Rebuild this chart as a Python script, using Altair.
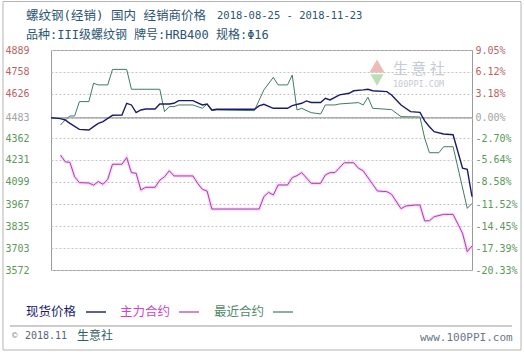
import altair as alt
import pandas as pd

# ---------------- data ----------------
spot_days = [0, 2, 3, 4, 6, 8, 9, 10, 11, 12, 13, 15, 16, 17, 18, 19, 20, 22, 23, 25, 26, 27, 30,
             32, 33, 34, 35, 43, 44, 45, 47, 50, 51, 53, 54, 55, 57, 58, 59, 61, 63, 64, 66, 67,
             68, 71, 72, 73, 74, 76, 78, 79, 80, 81, 83, 85, 87, 88, 89]
spot_vals = [4483, 4478, 4470, 4450, 4414, 4410, 4430, 4450, 4460, 4480, 4498, 4500, 4570, 4560,
             4514, 4530, 4536, 4536, 4566, 4566, 4570, 4586, 4586, 4560, 4566, 4530, 4534, 4534,
             4554, 4564, 4540, 4540, 4556, 4570, 4584, 4575, 4575, 4600, 4590, 4620, 4630, 4645,
             4650, 4654, 4645, 4640, 4620, 4590, 4560, 4520, 4516, 4465, 4430, 4400, 4386, 4382,
             4181, 4175, 4011]

main_days = [2, 3, 4, 5, 6, 8, 9, 10, 11, 12, 13, 15, 16, 17, 18, 19, 20, 22, 23, 24, 25, 26, 30,
             31, 32, 33, 34, 44, 45, 46, 47, 48, 50, 51, 52, 53, 55, 57, 58, 59, 60, 62, 64, 65,
             66, 69, 71, 72, 74, 75, 77, 78, 79, 80, 81, 83, 85, 87, 88, 89]
main_vals = [4260, 4220, 4216, 4130, 4095, 4093, 4080, 4101, 4085, 4115, 4205, 4205, 4245, 4155,
             4151, 4051, 4067, 4067, 4110, 4130, 4166, 4135, 4135, 4091, 4055, 4045, 3937, 3937,
             4011, 4037, 4021, 4081, 4081, 4125, 4137, 4155, 4091, 4091, 4141, 4155, 4155, 4214,
             4214, 4181, 4166, 4045, 4041, 4025, 3939, 3955, 3961, 3961, 3866, 3867, 3891, 3905,
             3905, 3792, 3682, 3716]

near_days = [2, 3, 4, 5, 6, 8, 9, 10, 12, 13, 16, 17, 23, 24, 25, 26, 27, 30, 32, 33, 34, 35, 43,
             45, 47, 48, 50, 51, 52, 53, 55, 57, 58, 60, 61, 65, 66, 67, 68, 72, 74, 78, 79, 80,
             82, 83, 85, 88, 89]
near_vals = [4440, 4470, 4494, 4494, 4580, 4580, 4690, 4680, 4680, 4773, 4773, 4654, 4654, 4520,
             4550, 4550, 4560, 4560, 4540, 4566, 4526, 4530, 4526, 4650, 4725, 4680, 4680, 4739,
             4530, 4540, 4514, 4506, 4560, 4560, 4566, 4574, 4560, 4606, 4540, 4532, 4490, 4488,
             4360, 4274, 4274, 4310, 4310, 3941, 3971]

y_ticks = [4889, 4758, 4626, 4483, 4362, 4231, 4099, 3967, 3835, 3703, 3572]
pct_labels = ["9.05%", "6.12%", "3.18%", "0.00%", "-2.70%", "-5.64%", "-8.58%", "-11.52%",
              "-14.45%", "-17.39%", "-20.33%"]
x_ticks = [0, 9, 18, 27, 36, 45, 54, 63, 72, 81, 89]
x_labels = ["08/25", "09/03", "09/12", "09/21", "09/30", "10/09", "10/18", "10/27", "11/05",
            "11/14", "11/22"]
base_price = 4483

title1a = "螺纹钢(经销) 国内 经销商价格"
title1b = "2018-08-25 - 2018-11-23"
title2 = "品种:III级螺纹钢 牌号:HRB400 规格:Φ16"
legend_names = ["现货价格", "主力合约", "最近合约"]
series_colors = ["#1b1b6b", "#b03ab6", "#3f7a62"]

# ---------------- build ----------------
df = pd.concat([
    pd.DataFrame({"day": spot_days, "price": spot_vals, "series": "spot"}),
    pd.DataFrame({"day": main_days, "price": main_vals, "series": "main"}),
    pd.DataFrame({"day": near_days, "price": near_vals, "series": "near"}),
])


def ternary(vals, labels):
    expr = "''"
    for v, l in reversed(list(zip(vals, labels))):
        expr = f"(abs(datum.value - {v}) < 0.5 ? '{l}' : {expr})"
    return expr


W, H = 421, 220
OX, OY = 51, 50
MONO = "DejaVu Sans Mono"
CJK = "Noto Sans CJK SC"
MIX = "DejaVu Sans Mono, Noto Sans CJK SC"

ydom = alt.Scale(domain=[3572, 4889], nice=False, zero=False)
xdom = alt.Scale(domain=[0, 89], nice=False, zero=False)

label_col = {
    "condition": [
        {"test": f"datum.value > {base_price + 5}", "value": "#b86464"},
        {"test": f"datum.value > {base_price - 5}", "value": "#a3a3a3"},
    ],
    "value": "#5a995a",
}

x_axis = alt.Axis(values=x_ticks, labelExpr=ternary(x_ticks, x_labels), grid=True,
                  gridColor="#c4c4c4", gridDash=[2, 2], ticks=False, domain=False,
                  labelFont=MONO, labelFontSize=10, labelColor="#34495a", labelPadding=9,
                  title=None, labelFlush=False)
y_left = alt.Axis(values=y_ticks, format="d", grid=True, gridColor="#c4c4c4", gridDash=[2, 2],
                  ticks=False, domain=False, labelFont=MONO, labelFontSize=10, labelPadding=22,
                  labelColor=label_col, title=None, orient="left")
y_right = alt.Axis(values=y_ticks, labelExpr=ternary(y_ticks, pct_labels), grid=False,
                   ticks=False, domain=False, labelFont=MONO, labelFontSize=10, labelPadding=3,
                   labelColor=label_col, title=None, orient="right")

base = alt.Chart(df)

main_halo = base.transform_filter("datum.series == 'main'").mark_line(
    color="#f3b8f0", strokeWidth=3.2, opacity=0.55).encode(
    x=alt.X("day:Q", scale=xdom, axis=x_axis),
    y=alt.Y("price:Q", scale=ydom, axis=y_left))

near_line = base.transform_filter("datum.series == 'near'").mark_line(
    color=series_colors[2], strokeWidth=1).encode(
    x=alt.X("day:Q", scale=xdom, axis=None),
    y=alt.Y("price:Q", scale=ydom, axis=y_right))

main_line = base.transform_filter("datum.series == 'main'").mark_line(
    color=series_colors[1], strokeWidth=1).encode(
    x=alt.X("day:Q", scale=xdom, axis=None),
    y=alt.Y("price:Q", scale=ydom, axis=None))

spot_line = base.transform_filter("datum.series == 'spot'").mark_line(
    color=series_colors[0], strokeWidth=1.4).encode(
    x=alt.X("day:Q", scale=xdom, axis=None),
    y=alt.Y("price:Q", scale=ydom, axis=None))

one = alt.Data(values=[{}])

baseline = alt.Chart(one).mark_rule(color="#8a8a8a", strokeWidth=1).encode(
    y=alt.Y(datum=base_price, scale=ydom, axis=None))


def txt(s, px, py, font, size, color, align="left"):
    return alt.Chart(one).mark_text(text=s, font=font, fontSize=size, color=color,
                                    align=align, baseline="middle").encode(
        x=alt.value(px - OX), y=alt.value(py - OY))


def hline(x1, x2, py, color, width=1):
    return alt.Chart(one).mark_rule(color=color, strokeWidth=width).encode(
        x=alt.value(x1 - OX), x2=alt.value(x2 - OX), y=alt.value(py - OY))


frame = alt.Chart(one).mark_rect(fill="transparent", stroke="#b4b4b4", strokeWidth=1).encode(
    x=alt.value(3 - OX), x2=alt.value(521 - OX), y=alt.value(1.5 - OY), y2=alt.value(350 - OY))

logo_top = alt.Chart(one).mark_point(shape="triangle-up", filled=True, size=230,
                                     color="#e9aaa2", opacity=0.8).encode(
    x=alt.value(377 - OX), y=alt.value(66 - OY))
logo_bot = alt.Chart(one).mark_point(shape="triangle-down", filled=True, size=170,
                                     color="#a9d6a6", opacity=0.8).encode(
    x=alt.value(377 - OX), y=alt.value(80 - OY))

texts = [
    txt(title1a, 26, 16, MIX, 12.5, "#2b5570"),
    txt(title1b, 217, 16, MONO, 10.5, "#2b5570"),
    txt(title2, 26, 35, MIX, 12, "#2b5570"),
    txt("生 意 社", 393, 69, CJK, 15, "#c3cad8"),
    txt("100PPI.COM", 393, 84, MONO, 8.5, "#c6cbd3"),
    txt(legend_names[0], 26, 312, CJK, 12.5, series_colors[0]),
    txt(legend_names[1], 120, 312, CJK, 12.5, "#cc44cc"),
    txt(legend_names[2], 214, 312, CJK, 12.5, "#4f8a6c"),
    hline(86, 106, 312, series_colors[0], 1.4),
    hline(179, 199, 312, "#b03ab6", 1.2),
    hline(273, 293, 312, series_colors[2], 1.2),
    hline(10, 512, 326, "#9a9a9a", 1),
    txt("©", 12, 335, MONO, 9, "#8a8a8a"),
    txt("2018.11", 25, 336, MONO, 10, "#556677"),
    txt("生意社", 77, 336, CJK, 12, "#2f5f66"),
    txt("www.100PPI.com", 420, 338, MONO, 11, "#6a7888"),
]

chart = alt.layer(
    main_halo, near_line, baseline, main_line, spot_line, frame, logo_top, logo_bot, *texts
).resolve_scale(y="independent").properties(
    width=W, height=H,
    autosize=alt.AutoSizeParams(type="none"),
    padding={"left": OX, "top": OY, "right": 524 - OX - W, "bottom": 352 - OY - H},
    background="white",
).configure_view(stroke="#9a9a9a", strokeWidth=1)

chart.save("out.html", embed_options={"renderer": "svg", "actions": False})
